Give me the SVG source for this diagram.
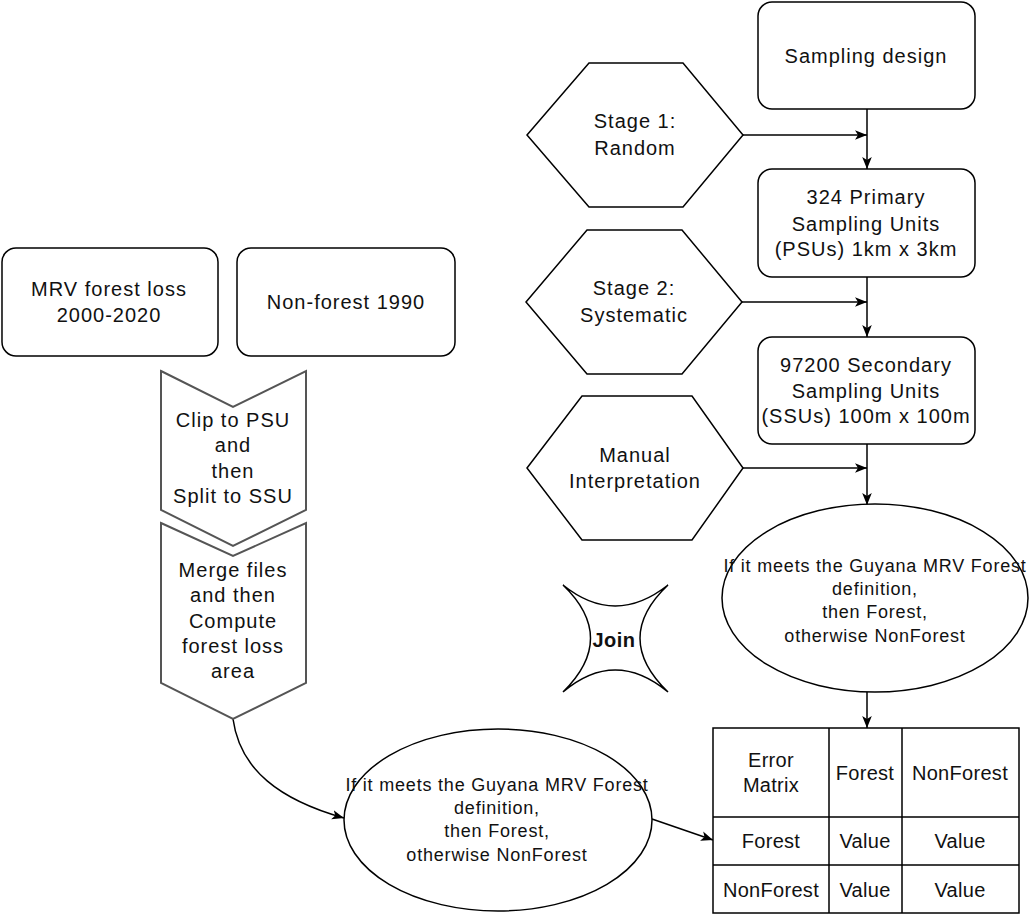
<svg xmlns="http://www.w3.org/2000/svg" width="1029" height="914" viewBox="0 0 1029 914">
<defs>
<style>
.box{fill:#fff;stroke:#000;stroke-width:1.5}
.chev{fill:#fff;stroke:#555;stroke-width:2}
.t{font-family:"Liberation Sans",Arial,sans-serif;font-size:20px;fill:#111;text-anchor:middle;letter-spacing:1px}
.e{font-family:"Liberation Sans",Arial,sans-serif;font-size:18px;fill:#111;text-anchor:middle;letter-spacing:0.8px}
.tb{font-family:"Liberation Sans",Arial,sans-serif;font-size:20px;fill:#111;text-anchor:middle;letter-spacing:0.3px}
.b{font-weight:bold;letter-spacing:0.5px}
.c{fill:none;stroke:#000;stroke-width:1.5}
</style>
<marker id="ah" viewBox="0 0 10 8" refX="10" refY="4" markerWidth="12" markerHeight="10" markerUnits="userSpaceOnUse" orient="auto">
<path d="M0,0 L10,4 L0,8 L2.5,4 Z" fill="#000"/>
</marker>
</defs>
<rect width="1029" height="914" fill="#fff"/>

<g id="connectors">
<path class="c" d="M867,109 L867,169" marker-end="url(#ah)"/>
<path class="c" d="M743,135 L867,135" marker-end="url(#ah)"/>
<path class="c" d="M867,277 L867,337" marker-end="url(#ah)"/>
<path class="c" d="M742,302 L867,302" marker-end="url(#ah)"/>
<path class="c" d="M867,444 L867,505" marker-end="url(#ah)"/>
<path class="c" d="M743,468 L867,468" marker-end="url(#ah)"/>
<path class="c" d="M867,692 L867,728" marker-end="url(#ah)"/>
<path class="c" d="M233,719 C240,770 280,800 344,818" marker-end="url(#ah)"/>
<path class="c" d="M652,819 L713,840" marker-end="url(#ah)"/>
</g>

<g id="sampling-design">
<rect class="box" x="758" y="2" width="217" height="107" rx="14"/>
<text class="t" x="866" y="63">Sampling design</text>
</g>

<g id="stage1">
<polygon class="box" points="527,135 589,63 683,63 743,135 683,207 589,207"/>
<text class="t" x="635" y="128">Stage 1:</text>
<text class="t" x="635" y="155">Random</text>
</g>

<g id="psu">
<rect class="box" x="758" y="169" width="217" height="108" rx="14"/>
<text class="t" x="866" y="204">324 Primary</text>
<text class="t" x="866" y="231">Sampling Units</text>
<text class="t" x="866" y="256">(PSUs) 1km x 3km</text>
</g>

<g id="stage2">
<polygon class="box" points="526,302 587,230 682,230 742,302 682,374 587,374"/>
<text class="t" x="634" y="295">Stage 2:</text>
<text class="t" x="634" y="322">Systematic</text>
</g>

<g id="ssu">
<rect class="box" x="758" y="337" width="217" height="107" rx="14"/>
<text class="t" x="866" y="372">97200 Secondary</text>
<text class="t" x="866" y="398">Sampling Units</text>
<text class="t" x="866" y="423">(SSUs) 100m x 100m</text>
</g>

<g id="manual">
<polygon class="box" points="527,468 582,396 692,396 743,468 692,540 582,540"/>
<text class="t" x="635" y="462">Manual</text>
<text class="t" x="635" y="488">Interpretation</text>
</g>

<g id="classify-right">
<ellipse class="box" cx="875" cy="598" rx="153" ry="94"/>
<text class="e" x="875" y="572">If it meets the Guyana MRV Forest</text>
<text class="e" x="875" y="595">definition,</text>
<text class="e" x="875" y="618">then Forest,</text>
<text class="e" x="875" y="642">otherwise NonForest</text>
</g>

<g id="join">
<path class="box" d="M563,585 Q615,627 668,585 Q612,638 668,692 Q615,648 563,692 Q618,638 563,585 Z"/>
<text class="t b" x="614" y="647">Join</text>
</g>

<g id="mrv-loss">
<rect class="box" x="2" y="248" width="216" height="108" rx="14"/>
<text class="t" x="109" y="296">MRV forest loss</text>
<text class="t" x="109" y="322">2000-2020</text>
</g>

<g id="nonforest-1990">
<rect class="box" x="237" y="248" width="218" height="108" rx="14"/>
<text class="t" x="346" y="309">Non-forest 1990</text>
</g>

<g id="clip">
<polygon class="chev" points="161,371 233,407 306,371 306,510 233,546 161,510"/>
<text class="t" x="233" y="427">Clip to PSU</text>
<text class="t" x="233" y="452">and</text>
<text class="t" x="233" y="478">then</text>
<text class="t" x="233" y="503">Split to SSU</text>
</g>

<g id="merge">
<polygon class="chev" points="161,523 233,556 306,523 306,683 233,719 161,683"/>
<text class="t" x="233" y="577">Merge files</text>
<text class="t" x="233" y="602">and then</text>
<text class="t" x="233" y="628">Compute</text>
<text class="t" x="233" y="653">forest loss</text>
<text class="t" x="233" y="678">area</text>
</g>

<g id="classify-left">
<ellipse class="box" cx="498" cy="820" rx="154" ry="91"/>
<text class="e" x="497" y="791">If it meets the Guyana MRV Forest</text>
<text class="e" x="497" y="814">definition,</text>
<text class="e" x="497" y="837">then Forest,</text>
<text class="e" x="497" y="861">otherwise NonForest</text>
</g>

<g id="error-matrix">
<rect class="box" x="713" y="728" width="306" height="185"/>
<path class="c" d="M829,728 V913 M902,728 V913 M713,817 H1019 M713,865 H1019"/>
<text class="tb" x="771" y="767">Error</text>
<text class="tb" x="771" y="792">Matrix</text>
<text class="tb" x="865" y="780">Forest</text>
<text class="tb" x="960" y="780">NonForest</text>
<text class="tb" x="771" y="848">Forest</text>
<text class="tb" x="865" y="848">Value</text>
<text class="tb" x="960" y="848">Value</text>
<text class="tb" x="771" y="897">NonForest</text>
<text class="tb" x="865" y="897">Value</text>
<text class="tb" x="960" y="897">Value</text>
</g>
</svg>
